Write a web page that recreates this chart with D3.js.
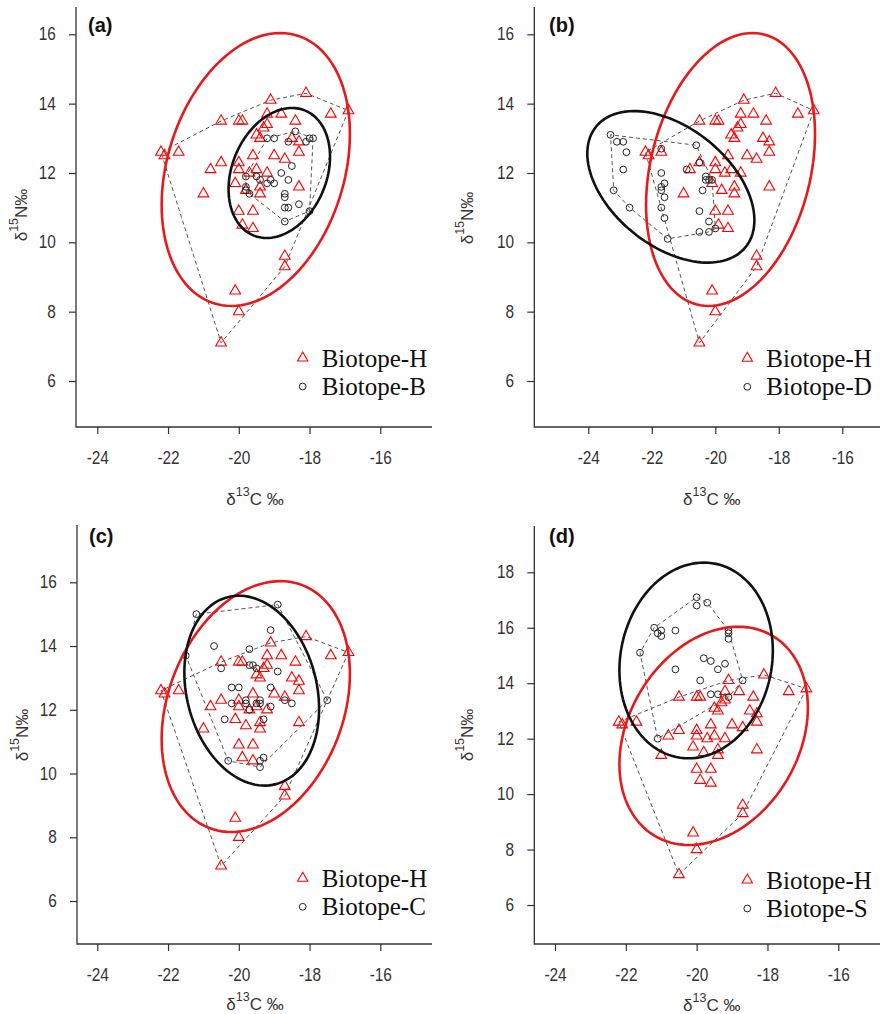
<!DOCTYPE html>
<html>
<head>
<meta charset="utf-8">
<script src="https://cdnjs.cloudflare.com/ajax/libs/d3/7.8.5/d3.min.js"></script>
<style>
  body { margin: 0; background: #fff; }
  svg { display: block; }
</style>
</head>
<body>
<svg id="chart"></svg>
<script>
// Tick values
const xTicks = [-24, -22, -20, -18, -16];
const yTicksABC = [6, 8, 10, 12, 14, 16];
const yTicksD = [6, 8, 10, 12, 14, 16, 18];

// Biotope-H (same in all panels): [d13C, d15N]
const biotopeH = [
  [-22.2, 12.6], [-22.1, 12.5], [-21.7, 12.6], [-21.0, 11.4], [-20.8, 12.1],
  [-20.5, 13.5], [-20.5, 12.3], [-20.5, 7.1], [-20.1, 8.6], [-20.0, 8.0],
  [-20.0, 13.5], [-19.9, 13.5], [-20.0, 12.3], [-20.0, 12.1], [-20.1, 11.7],
  [-20.0, 10.9], [-19.9, 10.5], [-19.7, 12.0], [-19.6, 12.5], [-19.6, 10.9],
  [-19.6, 10.4], [-19.8, 11.5], [-19.5, 13.1], [-19.4, 13.0], [-19.5, 12.1],
  [-19.4, 11.6], [-19.4, 11.4], [-19.3, 13.3], [-19.2, 13.4], [-19.2, 13.7],
  [-19.2, 12.0], [-19.1, 14.1], [-19.0, 12.5], [-18.8, 13.7], [-18.7, 12.4],
  [-18.7, 9.6], [-18.7, 9.3], [-18.5, 13.0], [-18.4, 13.5], [-18.3, 12.9],
  [-18.3, 12.6], [-18.3, 11.6], [-18.1, 14.3], [-17.4, 13.7], [-16.9, 13.8]
];

const biotopeB = [
  [-19.8, 11.9], [-19.8, 11.6], [-19.8, 11.5], [-19.7, 11.4], [-19.5, 11.9],
  [-19.4, 11.8], [-19.2, 11.7], [-19.1, 11.8], [-19.0, 11.7], [-19.2, 13.0],
  [-19.0, 13.0], [-18.8, 12.0], [-18.6, 11.8], [-18.6, 12.9], [-18.5, 12.2],
  [-18.4, 13.2], [-18.1, 12.9], [-18.0, 13.0], [-17.9, 13.0], [-18.7, 11.4],
  [-18.7, 11.3], [-18.7, 11.0], [-18.6, 11.0], [-18.7, 10.6], [-18.3, 11.1],
  [-18.0, 10.9]
];

const biotopeD = [
  [-23.3, 13.1], [-23.1, 12.9], [-22.9, 12.9], [-22.8, 12.6], [-22.9, 12.1],
  [-23.2, 11.5], [-22.7, 11.0], [-21.7, 12.7], [-21.7, 12.0], [-21.6, 11.7],
  [-21.7, 11.6], [-21.7, 11.5], [-21.6, 11.3], [-21.7, 11.0], [-21.6, 10.7],
  [-21.5, 10.1], [-20.6, 12.8], [-20.5, 12.3], [-20.9, 12.1], [-20.3, 11.9],
  [-20.3, 11.8], [-20.2, 11.8], [-20.1, 11.8], [-20.4, 11.5], [-20.5, 10.9],
  [-20.2, 10.6], [-20.5, 10.3], [-20.2, 10.3], [-20.0, 10.4]
];

const biotopeC = [
  [-21.2, 15.0], [-21.5, 13.7], [-20.7, 14.0], [-20.5, 13.3], [-18.9, 15.3],
  [-19.1, 14.5], [-19.7, 13.9], [-19.7, 13.4], [-19.6, 13.4], [-19.5, 13.3],
  [-18.9, 13.2], [-20.2, 12.7], [-20.0, 12.7], [-20.2, 12.2], [-20.4, 11.7],
  [-19.8, 12.3], [-19.8, 12.2], [-19.7, 12.0], [-19.5, 12.2], [-19.4, 12.3],
  [-19.4, 12.2], [-19.1, 12.7], [-19.1, 12.1], [-19.3, 11.7], [-18.7, 12.3],
  [-18.5, 12.2], [-17.5, 12.3], [-20.3, 10.4], [-19.4, 10.4], [-19.4, 10.2],
  [-19.3, 10.5]
];

const biotopeS = [
  [-20.0, 17.1], [-20.0, 16.8], [-19.7, 16.9], [-21.2, 16.0], [-21.1, 15.8],
  [-21.0, 15.9], [-21.0, 15.7], [-20.6, 15.9], [-21.6, 15.1], [-19.1, 15.9],
  [-19.1, 15.8], [-19.1, 15.6], [-19.8, 14.9], [-19.6, 14.8], [-19.4, 14.5],
  [-19.2, 14.7], [-20.6, 14.5], [-19.9, 14.1], [-18.7, 14.1], [-19.6, 13.6],
  [-19.4, 13.6], [-19.1, 13.5], [-21.1, 12.0]
];

// 95% ellipses: [mean C, mean N, sd C, sd N, correlation]
const ellipseH = [-19.52, 12.10, 1.087, 1.608, 0.26];
const ellipseB = [-18.855, 12.0, 0.586, 0.766, 0.25];
const ellipseD = [-21.4, 11.6, 1.075, 0.893, -0.44];
const ellipseC = [-19.635, 12.6, 0.778, 1.217, -0.19];
const ellipseS = [-20.015, 14.82, 0.885, 1.442, 0.10];

const panelLabels = ["(a)", "(b)", "(c)", "(d)"];
const otherNames = ["Biotope-B", "Biotope-D", "Biotope-C", "Biotope-S"];
const otherData = [biotopeB, biotopeD, biotopeC, biotopeS];
const otherEllipses = [ellipseB, ellipseD, ellipseC, ellipseS];

// Panel layout (pixel frame of each plot)
const layouts = [
  { x0: 76, x1: 432, y0: 7, y1: 427, xr: [97.3, 380.3], yd: [6, 16], yr: [381, 34.3], yTicks: yTicksABC,
    titleX: 255, titleY: 505, yTitleX: 27, yTitleY: 215, labX: 88, labY: 32, legX: 302.7, legY: 358 },
  { x0: 534.3, x1: 889, y0: 7, y1: 427, xr: [588.3, 842.3], yd: [6, 16], yr: [381, 34.3], yTicks: yTicksABC,
    titleX: 711.7, titleY: 505, yTitleX: 473.3, yTitleY: 218, labX: 549, labY: 32, legX: 747.3, legY: 358.3 },
  { x0: 77, x1: 432, y0: 525, y1: 944, xr: [97.3, 380.3], yd: [6, 16], yr: [901, 582.3], yTicks: yTicksABC,
    titleX: 255, titleY: 1010, yTitleX: 28.3, yTitleY: 735, labX: 89, labY: 543, legX: 302.7, legY: 878.3 },
  { x0: 534.3, x1: 889, y0: 526, y1: 944, xr: [555, 838.3], yd: [6, 18], yr: [905, 572.3], yTicks: yTicksD,
    titleX: 711.7, titleY: 1011, yTitleX: 473.3, yTitleY: 735, labX: 549, labY: 543, legX: 747.3, legY: 880 }
];

const svg = d3.select("#chart").attr("width", 880).attr("height", 1014);

const sans = "'Liberation Sans', Arial, sans-serif";
const serif = "'Liberation Serif', 'Times New Roman', serif";
const axisCol = "#333";
const K95 = Math.sqrt(-2 * Math.log(0.05));

const triangle = d3.symbol().type(d3.symbolTriangle).size(50);
const triangleLeg = d3.symbol().type(d3.symbolTriangle).size(46);

// Ellipse outline from mean, sd and correlation
function ellipsePoints(e) {
  const [cx, cy, sx, sy, r] = e;
  return d3.range(0, 121).map(i => {
    const t = 2 * Math.PI * i / 120;
    return [cx + K95 * sx * Math.cos(t),
            cy + K95 * sy * (r * Math.cos(t) + Math.sqrt(1 - r * r) * Math.sin(t))];
  });
}

layouts.forEach((L, i) => {
  const g = svg.append("g");
  const x = d3.scaleLinear().domain([-24, -16]).range(L.xr);
  const y = d3.scaleLinear().domain(L.yd).range(L.yr);
  const line = d3.line().x(d => x(d[0])).y(d => y(d[1]));

  // axis lines (L-shaped box)
  g.append("path")
    .attr("d", `M${L.x0},${L.y0}V${L.y1}H${L.x1}`)
    .attr("fill", "none").attr("stroke", axisCol).attr("stroke-width", 1.3);

  const xAxis = g.append("g").attr("transform", `translate(0,${L.y1})`)
    .call(d3.axisBottom(x).tickValues(xTicks).tickSize(7).tickPadding(18).tickFormat(d => String(d)));
  const yAxis = g.append("g").attr("transform", `translate(${L.x0},0)`)
    .call(d3.axisLeft(y).tickValues(L.yTicks).tickSize(7).tickPadding(16).tickFormat(d => String(d)));
  [xAxis, yAxis].forEach(a => {
    a.select(".domain").remove();
    a.selectAll(".tick line").attr("stroke", axisCol).attr("stroke-width", 1.2);
    a.selectAll(".tick text")
      .attr("fill", axisCol)
      .style("font-family", sans).style("font-size", "17.5px")
      .attr("transform", "scale(0.88,1)");
  });

  // axis titles
  const xt = g.append("text").attr("x", L.titleX).attr("y", L.titleY)
    .attr("text-anchor", "middle").attr("fill", "#3a3333")
    .style("font-family", sans).style("font-size", "17px");
  xt.append("tspan").text("δ");
  xt.append("tspan").attr("dy", -9).style("font-size", "12.5px").text("13");
  xt.append("tspan").attr("dy", 9).text("C ‰");

  const yt = g.append("text")
    .attr("transform", `translate(${L.yTitleX},${L.yTitleY}) rotate(-90)`)
    .attr("text-anchor", "middle").attr("fill", "#3a3333")
    .style("font-family", sans).style("font-size", "17px");
  yt.append("tspan").text("δ");
  yt.append("tspan").attr("dy", -9).style("font-size", "12.5px").text("15");
  yt.append("tspan").attr("dy", 9).text("N‰");

  // panel label
  g.append("text").attr("x", L.labX).attr("y", L.labY)
    .attr("fill", "#111").style("font-family", sans).style("font-size", "20px")
    .style("font-weight", "bold").text(panelLabels[i]);

  // points
  g.selectAll(".h").data(biotopeH).join("path")
    .attr("transform", d => `translate(${x(d[0])},${y(d[1])})`)
    .attr("d", triangle).attr("fill", "none").attr("stroke", "#f00").attr("stroke-width", 1.1);
  g.selectAll(".o").data(otherData[i]).join("circle")
    .attr("cx", d => x(d[0])).attr("cy", d => y(d[1])).attr("r", 3.4)
    .attr("fill", "none").attr("stroke", "#222").attr("stroke-width", 1);

  // convex hulls
  [biotopeH, otherData[i]].forEach(pts => {
    g.append("path").datum(d3.polygonHull(pts))
      .attr("d", d => line(d) + "Z")
      .attr("fill", "none").attr("stroke", "#555").attr("stroke-width", 1)
      .attr("stroke-dasharray", "4,3");
  });

  // ellipses
  g.append("path").datum(ellipsePoints(ellipseH))
    .attr("d", line).attr("fill", "none").attr("stroke", "#e8191b").attr("stroke-width", 2.6);
  g.append("path").datum(ellipsePoints(otherEllipses[i]))
    .attr("d", line).attr("fill", "none").attr("stroke", "#111").attr("stroke-width", 2.6);

  // legend
  g.append("path").attr("transform", `translate(${L.legX},${L.legY})`)
    .attr("d", triangleLeg).attr("fill", "none").attr("stroke", "#f00").attr("stroke-width", 1.1);
  g.append("circle").attr("cx", L.legX).attr("cy", L.legY + 28.5).attr("r", 3.4)
    .attr("fill", "none").attr("stroke", "#222").attr("stroke-width", 1);
  g.append("text").attr("x", L.legX + 19).attr("y", L.legY + 8.5)
    .attr("fill", "#111").style("font-family", serif).style("font-size", "25px").text("Biotope-H");
  g.append("text").attr("x", L.legX + 19).attr("y", L.legY + 37)
    .attr("fill", "#111").style("font-family", serif).style("font-size", "25px").text(otherNames[i]);
});
</script>
</body>
</html>
